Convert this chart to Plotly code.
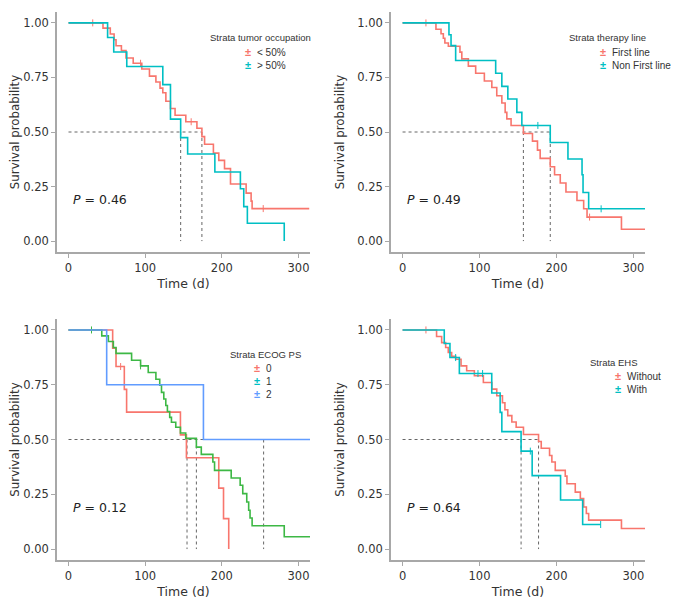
import plotly.graph_objects as go

W, H = 682, 609
OFF = 8  # default page body margin
FW, FH = W - OFF, H - OFF
FONT = "DejaVu Sans"
LFONT = "Liberation Sans"

# ---------------- data ----------------
# Panel 1: tumor occupation
p1_lt50_t = [0, 45, 54.5, 59.5, 62, 69, 75, 84.4, 95.6, 105.6, 114, 119.4, 123, 127, 133, 139, 153, 167.5, 174, 177.5, 189, 196, 203.5, 211.3, 231.7, 238.2, 239.5]
p1_lt50_s = [1, 0.976, 0.949, 0.923, 0.895, 0.873, 0.839, 0.815, 0.789, 0.756, 0.729, 0.701, 0.68, 0.641, 0.608, 0.577, 0.547, 0.517, 0.479, 0.444, 0.403, 0.370, 0.332, 0.262, 0.22, 0.183, 0.149]
p1_lt50_end = 314
p1_lt50_cens = [31.6, 94, 160, 254]
p1_gt50_t = [0, 51, 59, 76, 123, 133, 146.3, 155.4, 190.9, 224.2, 228.6, 233.3, 281.4]
p1_gt50_s = [1, 0.933, 0.867, 0.80, 0.717, 0.559, 0.474, 0.399, 0.317, 0.24, 0.158, 0.082, 0]
p1_gt50_end = 281.4
p1_gt50_cens = []
p1_medians = [146.3, 174]
p1_p = "0.46"

# Panel 2: therapy line
p2_first_t = [0, 43.4, 50, 53, 55, 59.5, 74.6, 77, 85.5, 95, 106.3, 116, 122.4, 129, 133.3, 135.5, 141, 157, 168.8, 175.3, 178.8, 191.9, 197.5, 204.9, 212.3, 226.6, 235.3, 239.7, 284.4]
p2_first_s = [1, 0.971, 0.95, 0.93, 0.908, 0.893, 0.866, 0.835, 0.802, 0.769, 0.734, 0.704, 0.666, 0.633, 0.59, 0.56, 0.53, 0.493, 0.458, 0.417, 0.379, 0.341, 0.304, 0.266, 0.225, 0.186, 0.148, 0.11, 0.054]
p2_first_end = 322
p2_first_cens = [30.4, 243]
p2_non_t = [0, 60.3, 63, 69, 121, 129, 136.8, 148.5, 155, 191.9, 214.9, 233.2, 234.5, 241.8]
p2_non_s = [1, 0.946, 0.896, 0.828, 0.769, 0.709, 0.651, 0.59, 0.53, 0.452, 0.376, 0.304, 0.223, 0.148]
p2_non_end = 322
p2_non_cens = [175.8, 258]
p2_medians = [157, 191.9]
p2_p = "0.49"

# Panel 3: ECOG PS
p3_e0_t = [0, 57.6, 62, 72.8, 75.8, 146, 153.8, 196, 202.2, 209]
p3_e0_s = [1, 0.917, 0.833, 0.729, 0.625, 0.521, 0.417, 0.278, 0.139, 0]
p3_e0_end = 209
p3_e0_cens = [68]
p3_e1_t = [0, 43.4, 52, 58.5, 62, 82.3, 94, 104, 114, 119, 121.3, 124.3, 126.9, 129, 132, 134.3, 139.9, 146, 152.9, 166.8, 173.2, 188.3, 190.5, 212.2, 223.9, 227.3, 232.5, 235, 236.8, 239.5, 281.4]
p3_e1_s = [1, 0.973, 0.947, 0.92, 0.893, 0.862, 0.836, 0.806, 0.775, 0.748, 0.715, 0.685, 0.655, 0.628, 0.601, 0.579, 0.556, 0.53, 0.505, 0.465, 0.432, 0.397, 0.359, 0.324, 0.291, 0.253, 0.215, 0.177, 0.142, 0.106, 0.056]
p3_e1_end = 318
p3_e1_cens = [30, 94]
p3_e2_t = [0, 49.8, 176]
p3_e2_s = [1, 0.75, 0.5]
p3_e2_end = 318
p3_e2_cens = []
p3_medians = [154.6, 166.8, 254.5]
p3_p = "0.12"

# Panel 4: EHS
p4_without_t = [0, 44.2, 50.8, 56, 59.4, 63.8, 69, 76, 83.3, 93.3, 105, 116, 122.4, 129.8, 133, 136.7, 142, 147.6, 157.1, 176.7, 180.2, 191, 194, 198.4, 211.4, 213.6, 224.4, 231, 235.3, 238.8, 241.8, 284.4]
p4_without_s = [1, 0.97, 0.942, 0.92, 0.897, 0.88, 0.866, 0.836, 0.814, 0.791, 0.76, 0.73, 0.7, 0.668, 0.636, 0.609, 0.58, 0.556, 0.523, 0.491, 0.46, 0.427, 0.397, 0.359, 0.333, 0.298, 0.26, 0.23, 0.192, 0.162, 0.132, 0.094]
p4_without_end = 322
p4_without_cens = [30.4]
p4_with_t = [0, 54.2, 61.6, 73.8, 115.9, 126.8, 129, 154, 168.4, 205.3, 234]
p4_with_s = [1, 0.938, 0.874, 0.801, 0.712, 0.624, 0.536, 0.447, 0.335, 0.224, 0.112]
p4_with_end = 257.4
p4_with_cens = [69, 98, 104, 166, 257.4]
p4_medians = [154, 176.7]
p4_p = "0.64"

x_tickvals = [0, 100, 200, 300]
x_ticktext = ["0", "100", "200", "300"]
y_tickvals = [0, 0.25, 0.5, 0.75, 1.0]
y_ticktext = ["0.00", "0.25", "0.50", "0.75", "1.00"]

legend_titles = ["Strata tumor occupation", "Strata therapy line", "Strata ECOG PS", "Strata EHS"]
legend_labels = [["< 50%", "> 50%"], ["First line", "Non First line"], ["0", "1", "2"], ["Without", "With"]]

RED, CYAN, GREEN, BLUE = "#F8766D", "#00BFC4", "#3DB845", "#619CFF"

panels = [
    dict(series=[(p1_lt50_t, p1_lt50_s, p1_lt50_end, p1_lt50_cens, RED),
                 (p1_gt50_t, p1_gt50_s, p1_gt50_end, p1_gt50_cens, CYAN)],
         medians=p1_medians, p=p1_p, leg_colors=[RED, CYAN]),
    dict(series=[(p2_first_t, p2_first_s, p2_first_end, p2_first_cens, RED),
                 (p2_non_t, p2_non_s, p2_non_end, p2_non_cens, CYAN)],
         medians=p2_medians, p=p2_p, leg_colors=[RED, CYAN]),
    dict(series=[(p3_e0_t, p3_e0_s, p3_e0_end, p3_e0_cens, RED),
                 (p3_e1_t, p3_e1_s, p3_e1_end, p3_e1_cens, GREEN),
                 (p3_e2_t, p3_e2_s, p3_e2_end, p3_e2_cens, BLUE)],
         medians=p3_medians, p=p3_p, leg_colors=[RED, CYAN, BLUE]),
    dict(series=[(p4_without_t, p4_without_s, p4_without_end, p4_without_cens, RED),
                 (p4_with_t, p4_with_s, p4_with_end, p4_with_cens, CYAN)],
         medians=p4_medians, p=p4_p, leg_colors=[RED, CYAN]),
]

# pixel layout on the page (left, right, top, bottom) of each plot area
boxes = [(57, 310, 12, 252), (391, 645, 12, 252), (57, 310, 319, 560), (391, 645, 319, 560)]
legend_pos = [(208, 38, 248, 13), (567, 38, 603, 13), (228, 354, 257, 13), (588, 362, 618, 13)]


def step_at(ts, ss, x):
    v = ss[0]
    for t, s in zip(ts, ss):
        if t <= x:
            v = s
    return v


def px(x):
    return (x - OFF) / FW


def py(y):
    return 1 - (y - OFF) / FH


fig = go.Figure()
annotations = []
layout = {}

for i, (pan, box) in enumerate(zip(panels, boxes)):
    k = "" if i == 0 else str(i + 1)
    xa, ya = "x" + k, "y" + k
    # median dotted lines
    mmax = max(pan["medians"])
    fig.add_trace(go.Scatter(x=[0, mmax], y=[0.5, 0.5], mode="lines", xaxis=xa, yaxis=ya,
                             line=dict(color="#555555", width=0.9, dash="dot"), hoverinfo="skip"))
    for m in pan["medians"]:
        fig.add_trace(go.Scatter(x=[m, m], y=[0.5, 0], mode="lines", xaxis=xa, yaxis=ya,
                                 line=dict(color="#555555", width=0.9, dash="dot"), hoverinfo="skip"))
    for ts, ss, end, cens, col in pan["series"]:
        xs = list(ts) + [end]
        ys = list(ss) + [ss[-1]]
        fig.add_trace(go.Scatter(x=xs, y=ys, mode="lines", line_shape="hv", xaxis=xa, yaxis=ya,
                                 line=dict(color=col, width=1.6)))
        if cens:
            fig.add_trace(go.Scatter(x=cens, y=[step_at(ts, ss, c) for c in cens], mode="markers",
                                     xaxis=xa, yaxis=ya,
                                     marker=dict(symbol="line-ns", size=5, line=dict(color=col, width=1))))
    left, right, top, bottom = box
    axis_common = dict(showline=True, linecolor="#a8a8a8", linewidth=1.6, ticks="outside",
                       tickcolor="#a8a8a8", ticklen=4, tickwidth=1.2, showgrid=False, zeroline=False,
                       automargin=False,
                       tickfont=dict(family=FONT, size=11.5, color="#333333"))
    layout["xaxis" + k] = dict(domain=[px(left), px(right)], anchor=ya, range=[-15, 315],
                               tickvals=x_tickvals, ticktext=x_ticktext,
                               title=dict(text="Time (d)", font=dict(family=FONT, size=12.5, color="#333333"), standoff=6),
                               **axis_common)
    layout["yaxis" + k] = dict(domain=[py(bottom), py(top)], anchor=xa, range=[-0.05, 1.05],
                               tickvals=y_tickvals, ticktext=y_ticktext,
                               title=dict(text="Survival probability", font=dict(family=FONT, size=11.8, color="#333333"), standoff=10),
                               **axis_common)
    # P value
    annotations.append(dict(x=3.5, y=0.19, xref=xa, yref=ya, xanchor="left", yanchor="middle",
                            text="<i>P</i> = " + pan["p"], showarrow=False,
                            font=dict(family=FONT, size=12.5, color="#222222")))
    # legend
    lx, ly, sx, dy = legend_pos[i]
    annotations.append(dict(x=px(lx), y=py(ly), xref="paper", yref="paper", xanchor="left", yanchor="middle",
                            text=legend_titles[i], showarrow=False,
                            font=dict(family=LFONT, size=9.5, color="#333333")))
    for j, (lab, col) in enumerate(zip(legend_labels[i], pan["leg_colors"])):
        yy = ly + 14 + j * dy
        annotations.append(dict(x=px(sx), y=py(yy), xref="paper", yref="paper", xanchor="center", yanchor="middle",
                                text="<b>±</b>", showarrow=False, font=dict(family=LFONT, size=11, color=col)))
        annotations.append(dict(x=px(sx + 7), y=py(yy), xref="paper", yref="paper", xanchor="left", yanchor="middle",
                                text=lab, showarrow=False, font=dict(family=LFONT, size=10, color="#333333")))

fig.update_layout(width=FW, height=FH, margin=dict(l=0, r=0, t=0, b=0), showlegend=False,
                  paper_bgcolor="white", plot_bgcolor="white", annotations=annotations, **layout)
fig.write_html("out.html")
